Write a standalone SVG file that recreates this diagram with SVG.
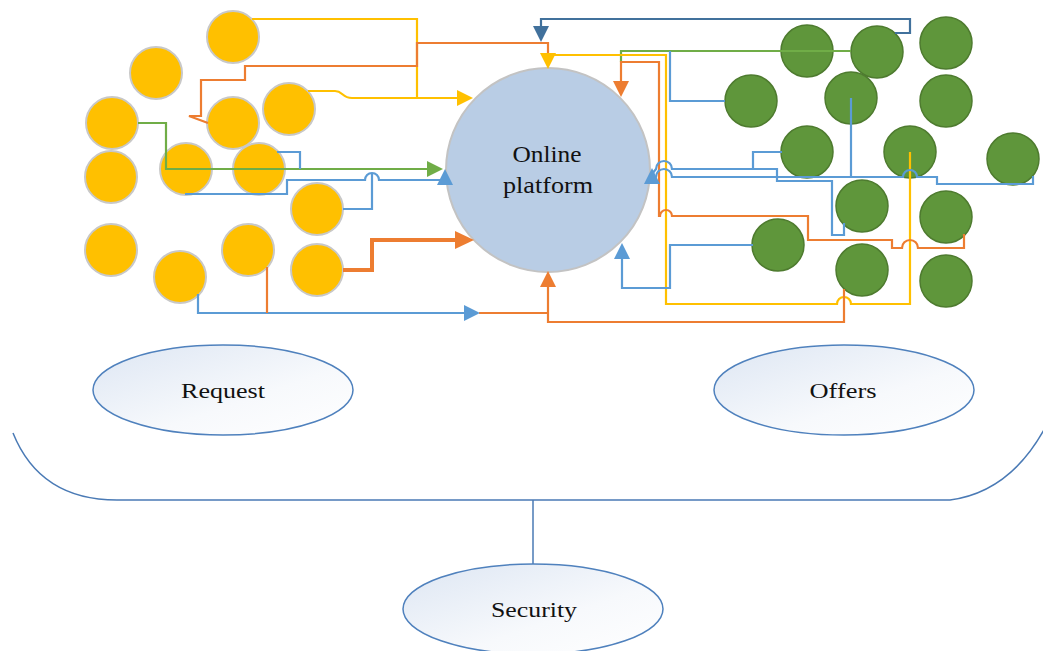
<svg xmlns="http://www.w3.org/2000/svg" xmlns:xlink="http://www.w3.org/1999/xlink" width="1043" height="651" viewBox="0 0 1043 651">
<style>
.y{fill:#ffc000;stroke:#c8c8c8;stroke-width:2}
.g{fill:#5f963b;stroke:#4e7b2f;stroke-width:1.5}
.plat{fill:#b9cde5;stroke:#c3c3c3;stroke-width:2}
.ell{fill:url(#eg);stroke:#4f81bd;stroke-width:1.5}
.ln{fill:none;stroke-width:2.2;stroke-linejoin:miter}
.thick{stroke-width:4}
.cy{stroke:#ffc000}.co{stroke:#ed7d31}.cg{stroke:#70ad47}.cb{stroke:#5b9bd5}.cd{stroke:#41719c}
.fy{fill:#ffc000}.fo{fill:#ed7d31}.fg{fill:#70ad47}.fb{fill:#5b9bd5}.fd{fill:#41719c}
text{font-family:"Liberation Serif","Times New Roman",serif;fill:#111;text-anchor:middle}
.t1{font-size:24px}
.t2{font-size:22px}
</style>
<defs>
<linearGradient id="eg" x1="0" y1="0" x2="1" y2="1">
<stop offset="0" stop-color="#dde6f3"/>
<stop offset="0.6" stop-color="#f7f9fc"/>
<stop offset="1" stop-color="#ffffff"/>
</linearGradient>
<path id="ah" d="M0,0 L-16,-8 L-16,8 Z"/>
<path id="ahb" d="M0,0 L-19,-9 L-19,9 Z"/>
</defs>

<g id="frame">
<path d="M13,433 Q40,500 117,500 L950,500 Q1010,492 1045,428" fill="none" stroke="#4a7ab5" stroke-width="1.5"/>
<line x1="533" y1="500" x2="533" y2="564" stroke="#4a7ab5" stroke-width="1.5"/>
</g>

<g id="request"><ellipse class="ell" cx="223" cy="390" rx="130" ry="45"/><text class="t2" x="223" y="398" textLength="84" lengthAdjust="spacingAndGlyphs">Request</text></g>
<g id="offers"><ellipse class="ell" cx="844" cy="390" rx="130" ry="45"/><text class="t2" x="843" y="398" textLength="67" lengthAdjust="spacingAndGlyphs">Offers</text></g>
<g id="security"><ellipse class="ell" cx="533" cy="609" rx="130" ry="45"/><text class="t2" x="534" y="617" textLength="86" lengthAdjust="spacingAndGlyphs">Security</text></g>

<g id="platform"><circle class="plat" cx="548" cy="170" r="102"/>
<text class="t1" x="547" y="162" textLength="69" lengthAdjust="spacingAndGlyphs">Online</text>
<text class="t1" x="548" y="193" textLength="90" lengthAdjust="spacingAndGlyphs">platform</text></g>

<g id="requesters">
<circle id="r1" class="y" cx="233" cy="37" r="26"/>
<circle id="r2" class="y" cx="156" cy="73" r="26"/>
<circle id="r3" class="y" cx="112" cy="123" r="26"/>
<circle id="r4" class="y" cx="233" cy="123" r="26"/>
<circle id="r5" class="y" cx="289" cy="109" r="26"/>
<circle id="r6" class="y" cx="111" cy="177" r="26"/>
<circle id="r7" class="y" cx="186" cy="169" r="26"/>
<circle id="r8" class="y" cx="259" cy="169" r="26"/>
<circle id="r9" class="y" cx="317" cy="209" r="26"/>
<circle id="r10" class="y" cx="111" cy="250" r="26"/>
<circle id="r11" class="y" cx="180" cy="277" r="26"/>
<circle id="r12" class="y" cx="248" cy="250" r="26"/>
<circle id="r13" class="y" cx="317" cy="270" r="26"/>
</g>

<g id="offerers">
<circle id="o1" class="g" cx="807" cy="51" r="26"/>
<circle id="o2" class="g" cx="877" cy="52" r="26"/>
<circle id="o3" class="g" cx="946" cy="43" r="26"/>
<circle id="o4" class="g" cx="751" cy="101" r="26"/>
<circle id="o5" class="g" cx="851" cy="98" r="26"/>
<circle id="o6" class="g" cx="946" cy="101" r="26"/>
<circle id="o7" class="g" cx="807" cy="152" r="26"/>
<circle id="o8" class="g" cx="910" cy="152" r="26"/>
<circle id="o9" class="g" cx="1013" cy="159" r="26"/>
<circle id="o10" class="g" cx="862" cy="206" r="26"/>
<circle id="o11" class="g" cx="946" cy="217" r="26"/>
<circle id="o12" class="g" cx="862" cy="270" r="26"/>
<circle id="o13" class="g" cx="946" cy="281" r="26"/>
<circle id="o14" class="g" cx="778" cy="245" r="26"/>
</g>

<g id="connectors">
<!-- left side -->
<path class="ln cy" d="M252,19 H417 V98 H458"/>
<path class="ln cy" d="M308,91 H335 C343,91 342,98 352,98 H417"/>
<path class="ln co" d="M548,53 V43 H417 V66 H245 V80 H201 V116 H189 L208,123"/>
<path class="ln cg" d="M138,123 H166 V169 H427"/>
<path class="ln cb" d="M277,152 H300 V169"/>
<path class="ln cb" d="M185,194 H287 V180 H365 A7,7 0 0 1 379,180 H445"/>
<path class="ln cb" d="M343,209 H372 V173"/>
<path class="ln co thick" d="M343,270 H372 V240 H456"/>
<path class="ln cb" d="M198,294 V313 H464"/>
<path class="ln co" d="M267,267 V313"/>
<path class="ln co" d="M479,313 H548"/>
<!-- right side -->
<path class="ln cd" d="M895,33 H910 V19 H541 V27"/>
<path class="ln cg" d="M851,51 H621 V62"/>
<path class="ln cb" d="M725,101 H670 V51"/>
<path class="ln cy" d="M910,152 V304 H851 A7,7 0 0 0 837,304 H666 V55 H548 V53"/>
<path class="ln co" d="M964,234 V248 H918 A8,8 0 0 0 902,248 H892 V240 H808 V216 H672 A6,6 0 0 0 660,216 H659 V62 H621 V82"/>
<path class="ln co" d="M844,289 V322 H548 V286"/>
<path class="ln cb" d="M844,223 V235 H832 V181 H777 V169 H672 A8,8 0 0 0 656,169 L652,174"/>
<path class="ln cb" d="M782,152 H753 V169"/>
<path class="ln cb" d="M1033,176 V184 H937 V177 H917 A7,7 0 0 0 903,177 H672 A8,8 0 0 0 656,177 L653,181"/>
<path class="ln cb" d="M851,98 V177"/>
<path class="ln cb" d="M753,245 H670 V288 H622 V258"/>
<!-- arrowheads -->
<use xlink:href="#ah" class="fy" transform="translate(473,98)"/>
<use xlink:href="#ah" class="fg" transform="translate(443,169)"/>
<use xlink:href="#ah" class="fb" transform="translate(445,169) rotate(-90)"/>
<use xlink:href="#ahb" class="fo" transform="translate(474,240)"/>
<use xlink:href="#ah" class="fb" transform="translate(480,313)"/>
<use xlink:href="#ah" class="fo" transform="translate(548,271) rotate(-90)"/>
<use xlink:href="#ah" class="fd" transform="translate(541,42) rotate(90)"/>
<use xlink:href="#ah" class="fy" transform="translate(548,69) rotate(90)"/>
<use xlink:href="#ah" class="fo" transform="translate(621,97) rotate(90)"/>
<use xlink:href="#ah" class="fb" transform="translate(652,168) rotate(-90)"/>
<use xlink:href="#ah" class="fb" transform="translate(622,243) rotate(-90)"/>
</g>
</svg>
